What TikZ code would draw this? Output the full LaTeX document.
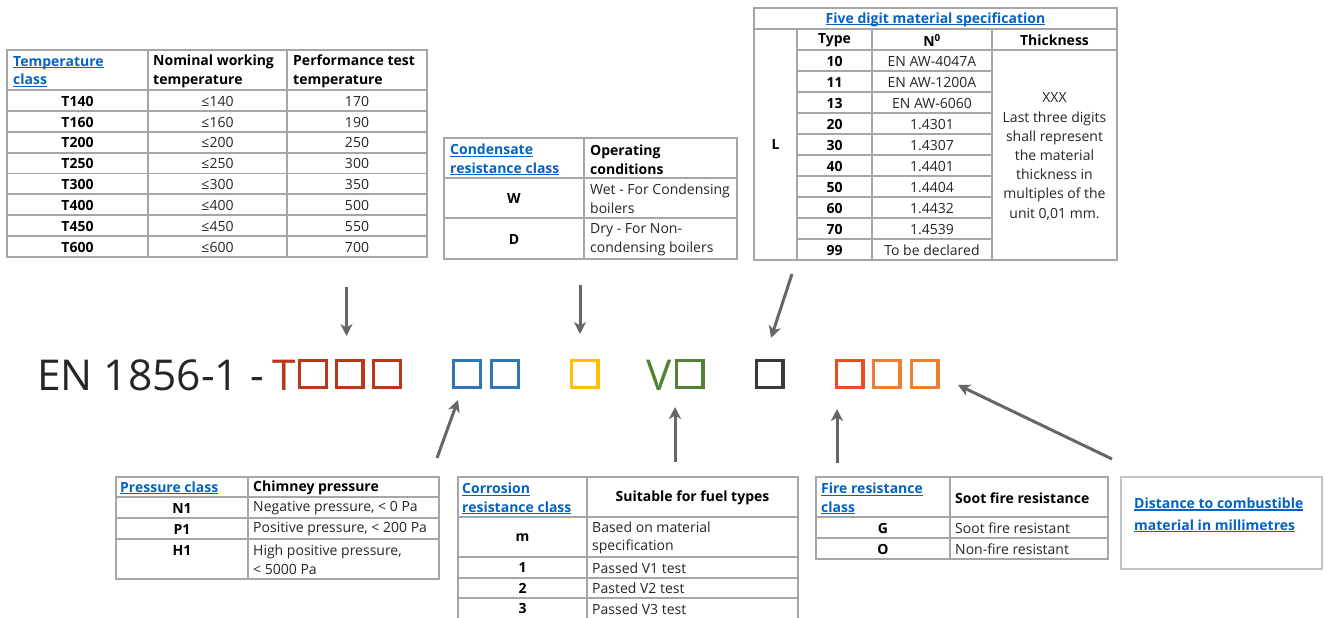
\documentclass[tikz,border=0pt]{standalone}
\usepackage{fontspec}
\setmainfont{Open Sans}
\usetikzlibrary{arrows.meta,positioning}

\definecolor{tabgray}{HTML}{A6A6A6}
\definecolor{boxgray}{HTML}{C4C4C4}
\definecolor{linkblue}{HTML}{0563C1}
\definecolor{bodytext}{HTML}{262626}
\definecolor{arrowgray}{HTML}{666666}
\definecolor{tred}{HTML}{B7391A}
\definecolor{tblue}{HTML}{2E75B6}
\definecolor{tyellow}{HTML}{FFC000}
\definecolor{tgreen}{HTML}{548235}
\definecolor{tblack}{HTML}{3A3A3A}
\definecolor{tred2}{HTML}{E84E22}
\definecolor{torange}{HTML}{ED7D31}

% underlined link text, rule 2pt below the baseline
\newcommand\lnk[1]{\setbox0\hbox{#1}\rlap{\rule[-2.2pt]{\wd0}{1.1pt}}\box0}

\tikzset{
  tabline/.style={draw=tabgray, line width=1.8pt},
  boxline/.style={draw=boxgray, line width=1.6pt},
  cell/.style={inner sep=0pt, text=bodytext, font=\fontsize{14}{18.6}\selectfont},
  boldcell/.style={cell, text=black, font=\fontsize{14}{18.6}\selectfont\bfseries},
  lcell/.style={cell, anchor=west, align=left},
  boldhead/.style={boldcell, anchor=west, align=left},
  linkcell/.style={boldcell, text=linkblue},
  linkhead/.style={linkcell, anchor=west, align=left},
  code/.style={inner sep=0pt, anchor=base west, font=\fontsize{42.5}{50}\selectfont},
  slot/.style={line width=3.3pt, minimum size=26.7pt, inner sep=0pt},
  pointer/.style={draw=arrowgray, line width=3pt, -{Stealth[length=12pt,width=12pt,inset=3.5pt]}}
}

\begin{document}
\begin{tikzpicture}[x=1pt,y=-1pt]
\useasboundingbox[fill=white] (0,0) rectangle (1325,618);

%Temperature class table
\draw[tabline] (7,50) rectangle (427,257);
\draw[tabline] (148,50) -- (148,257);
\draw[tabline] (287,50) -- (287,257);
\foreach \k in {0,...,7} \draw[tabline] (7,{90+20.875*\k}) -- (427,{90+20.875*\k});
\node[linkhead] (temphead) at (13,71.5) {\lnk{Temperature}\\\lnk{class}};
\node[boldhead] (nomhead) at (153,71.5) {Nominal working\\temperature};
\node[boldhead] (perfhead) at (293,71.5) {Performance test\\temperature};
\foreach \cls/\nom/\perf [count=\i] in {T140/140/170,T160/160/190,T200/200/250,T250/250/300,T300/300/350,T400/400/500,T450/450/550,T600/600/700}{
  \node[boldcell] (tcls\i) at (77.5,{80.3+20.875*\i}) {\cls};
  \node[cell] (tnom\i) at (217.5,{80.3+20.875*\i}) {≤\nom};
  \node[cell] (tperf\i) at (357,{80.3+20.875*\i}) {\perf};
}

%Condensate resistance table
\draw[tabline] (444,138) rectangle (737,259);
\draw[tabline] (584,138) -- (584,259);
\draw[tabline] (444,178) -- (737,178);
\draw[tabline] (444,218) -- (737,218);
\node[linkhead] (condhead) at (450,159.5) {\lnk{Condensate}\\\lnk{resistance class}};
\node[boldhead] (ophead) at (590,159.5) {Operating\\conditions};
\node[boldcell] (condw) at (514,199) {W};
\node[lcell] (wetdesc) at (590,199) {Wet - For Condensing\\boilers};
\node[boldcell] (condd) at (514,239.5) {D};
\node[lcell] (drydesc) at (590,239.5) {Dry - For Non-\\condensing boilers};

%Material specification table
\draw[tabline] (754,8) rectangle (1117,260);
\draw[tabline] (754,29) -- (1117,29);
\draw[tabline] (797,29) -- (797,260);
\draw[tabline] (872,29) -- (872,260);
\draw[tabline] (992,29) -- (992,260);
\draw[tabline] (797,50) -- (1117,50);
\foreach \k in {1,...,9} \draw[tabline] (797,{50+21*\k}) -- (992,{50+21*\k});
\node[linkcell] (mathead) at (935.5,19.5) {\lnk{Five digit material specification}};
\node[boldcell] (typehead) at (834.5,40.5) {Type};
\node[boldcell] (nohead) at (932,40.5) {N\textsuperscript{0}};
\node[boldcell] (thickhead) at (1054.5,40.5) {Thickness};
\node[boldcell] (matl) at (775.5,145) {L};
\foreach \typ/\num [count=\i] in {10/EN AW-4047A,11/EN AW-1200A,13/EN AW-6060,20/1.4301,30/1.4307,40/1.4401,50/1.4404,60/1.4432,70/1.4539,99/To be declared}{
  \node[boldcell] (mtype\i) at (834.5,{40.3+21*\i}) {\typ};
  \node[cell] (mnum\i) at (932,{40.3+21*\i}) {\num};
}
\node[cell, align=center, font=\fontsize{14}{19.2}\selectfont] (thickdesc) at (1054.5,156.5)
  {XXX\\Last three digits\\shall represent\\the material\\thickness in\\multiples of the\\unit 0,01 mm.};

%Pressure class table
\draw[tabline] (116,477) rectangle (439,579);
\draw[tabline] (248,477) -- (248,579);
\foreach \y in {497,518,539} \draw[tabline] (116,\y) -- (439,\y);
\node[linkhead] (preshead) at (120,488) {\lnk{Pressure class}};
\node[boldhead] (chimhead) at (253,488) {Chimney pressure};
\node[boldcell] (presn) at (182,508.3) {N1};
\node[lcell] (negdesc) at (253,508.3) {Negative pressure, < 0 Pa};
\node[boldcell] (presp) at (182,529.3) {P1};
\node[lcell] (posdesc) at (253,529.3) {Positive pressure, < 200 Pa};
\node[boldcell] (presh) at (182,550.3) {H1};
\node[lcell] (highdesc) at (253,559.5) {High positive pressure,\\< 5000 Pa};

%Corrosion resistance table
\draw[tabline] (458,618) -- (458,477) -- (798,477) -- (798,618);
\draw[tabline] (587,477) -- (587,618);
\foreach \y in {517,557,578,598} \draw[tabline] (458,\y) -- (798,\y);
\node[linkhead] (corrhead) at (462,498.5) {\lnk{Corrosion}\\\lnk{resistance class}};
\node[boldcell] (fuelhead) at (692.5,498) {Suitable for fuel types};
\node[boldcell] (corrm) at (522.5,538) {m};
\node[lcell] (mdesc) at (592,538) {Based on material\\specification};
\foreach \c/\d [count=\i] in {1/Passed V1 test,2/Pasted V2 test,3/Passed V3 test}{
  \node[boldcell] (corr\i) at (522.5,{547.3+20.5*\i}) {\c};
  \node[lcell] (cdesc\i) at (592,{547.3+20.5*\i}) {\d};
}

%Fire resistance table
\draw[tabline] (816,477) rectangle (1108,559);
\draw[tabline] (950,477) -- (950,559);
\draw[tabline] (816,517) -- (1108,517);
\draw[tabline] (816,538) -- (1108,538);
\node[linkhead] (firehead) at (821,498.5) {\lnk{Fire resistance}\\\lnk{class}};
\node[boldhead] (soothead) at (955,498) {Soot fire resistance};
\node[boldcell] (fireg) at (883,528.3) {G};
\node[lcell] (gdesc) at (955,528.3) {Soot fire resistant};
\node[boldcell] (fireo) at (883,549.3) {O};
\node[lcell] (odesc) at (955,549.3) {Non-fire resistant};

%Distance box
\draw[boxline] (1121,477) rectangle (1322,569);
\node[linkhead, font=\fontsize{14}{21.7}\selectfont\bfseries] (disthead) at (1134,515)
  {\lnk{Distance to combustible}\\\lnk{material in millimetres}};

%Designation code
\node[code, text=bodytext] (enlabel) at (37,390) {EN 1856-1 -};
\node[code, text=tred] (tletter) at (272,390) {T};
\node[code, text=tgreen] (vletter) at (646,390) {V};
\foreach \x/\c [count=\i] in {313/tred,349.5/tred,387/tred,467/tblue,505/tblue,584.5/tyellow,689.5/tgreen,769.5/tblack,849.5/tred2,886.5/torange,924.5/torange}
  \node[slot, draw=\c] (sq\i) at (\x,374) {};

%Arrows
\coordinate (tempfrom) at (346.5,287);
\coordinate (tempto) at (346.5,336);
\coordinate (condfrom) at (580,285);
\coordinate (condto) at (580,334);
\coordinate (matfrom) at (792,274);
\coordinate (matto) at (771,338);
\coordinate (presfrom) at (437,458);
\coordinate (presto) at (458,400);
\coordinate (corrfrom) at (675,462);
\coordinate (corrto) at (675,407);
\coordinate (firefrom) at (837,463);
\coordinate (fireto) at (837,409);
\coordinate (distfrom) at (1112,459);
\coordinate (distto) at (958,385);
\draw[pointer] (tempfrom) -- (tempto);
\draw[pointer] (condfrom) -- (condto);
\draw[pointer] (matfrom) -- (matto);
\draw[pointer] (presfrom) -- (presto);
\draw[pointer] (corrfrom) -- (corrto);
\draw[pointer] (firefrom) -- (fireto);
\draw[pointer] (distfrom) -- (distto);
\end{tikzpicture}
\end{document}
